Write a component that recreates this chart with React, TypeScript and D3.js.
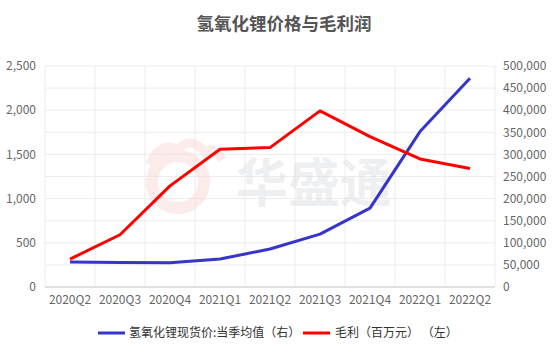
import React from 'react';
import * as d3 from 'd3';

// quarters on the x axis
const quarters = ['2020Q2', '2020Q3', '2020Q4', '2021Q1', '2021Q2', '2021Q3', '2021Q4', '2022Q1', '2022Q2'];
// 氢氧化锂现货价:当季均值 (right axis)
const spotPrice = [56500, 55600, 54900, 63300, 85900, 119700, 178500, 351600, 472200];
// 毛利 (百万元) (left axis)
const grossProfit = [316, 591, 1144, 1559, 1577, 1992, 1701, 1449, 1340];

const leftTicks = [0, 500, 1000, 1500, 2000, 2500];
const rightTicks = [0, 50000, 100000, 150000, 200000, 250000, 300000, 350000, 400000, 450000, 500000];
const gridTicks = d3.range(0, 2501, 250);

const FONT = '"Noto Sans CJK SC", "Noto Sans", sans-serif';

const W = 554;
const H = 353;
const M = { left: 45, right: 59, top: 66, bottom: 66 };

const App = () => {
  const x = d3.scaleBand().domain(quarters).range([M.left, W - M.right]);
  const yL = d3.scaleLinear().domain([0, 2500]).range([H - M.bottom, M.top]);
  const yR = d3.scaleLinear().domain([0, 500000]).range([H - M.bottom, M.top]);
  const cx = (q: string) => (x(q) ?? 0) + x.bandwidth() / 2;
  const fmt = d3.format(',');

  const blueLine = d3.line<number>().x((_, i) => cx(quarters[i])).y((d) => yR(d))(spotPrice);
  const redLine = d3.line<number>().x((_, i) => cx(quarters[i])).y((d) => yL(d))(grossProfit);

  const bottom = H - M.bottom;

  return (
    <svg width={W} height={H} style={{ position: 'absolute', left: 0, top: 0, background: '#fff' }}>
      {/* grid */}
      {gridTicks.map((t) => (
        <line key={'h' + t} x1={M.left} x2={W - M.right} y1={yL(t)} y2={yL(t)} stroke="#ececec" />
      ))}
      {quarters.map((q) => (
        <line key={'v' + q} x1={x(q)} x2={x(q)} y1={M.top} y2={bottom} stroke="#ececec" />
      ))}
      <line x1={W - M.right} x2={W - M.right} y1={M.top} y2={bottom} stroke="#ececec" />

      {/* watermark */}
      <g opacity={0.5}>
        <circle cx={178} cy={182} r={26} fill="none" stroke="#fbd9d9" strokeWidth={12} />
        <path d="M150 165 Q160 140 178 150 Q190 135 205 152 Q215 145 222 160" fill="none" stroke="#fbd9d9" strokeWidth={9} />
        <text x={236} y={202} fontFamily={FONT} fontSize={52} fontWeight={700} fill="#dfe1e5">华盛通</text>
      </g>

      <line x1={M.left} x2={W - M.right} y1={bottom} y2={bottom} stroke="#cccccc" />

      {/* left axis */}
      {leftTicks.map((t) => (
        <text key={'l' + t} x={36} y={yL(t)} dy="0.35em" textAnchor="end" fontFamily={FONT} fontSize={12} fill="#666">
          {fmt(t)}
        </text>
      ))}
      {/* right axis */}
      {rightTicks.map((t) => (
        <text key={'r' + t} x={503} y={yR(t)} dy="0.35em" fontFamily={FONT} fontSize={12} fill="#666">
          {fmt(t)}
        </text>
      ))}
      {/* x axis */}
      {quarters.map((q) => (
        <text key={'x' + q} x={cx(q)} y={bottom + 17} textAnchor="middle" fontFamily={FONT} fontSize={12} fill="#666">
          {q}
        </text>
      ))}

      <path d={blueLine ?? ''} fill="none" stroke="#3535cc" strokeWidth={3} strokeLinejoin="round" />
      <path d={redLine ?? ''} fill="none" stroke="#ff0000" strokeWidth={3} strokeLinejoin="round" />

      {/* title */}
      <text x={284} y={30} textAnchor="middle" fontFamily={FONT} fontSize={17.5} fontWeight={700} fill="#555">
        氢氧化锂价格与毛利润
      </text>

      {/* legend */}
      <line x1={98} x2={125} y1={333} y2={333} stroke="#3535cc" strokeWidth={3} />
      <text x={129} y={333} dy="0.35em" fontFamily={FONT} fontSize={12} fill="#333">氢氧化锂现货价:当季均值（右）</text>
      <line x1={303} x2={330} y1={333} y2={333} stroke="#ff0000" strokeWidth={3} />
      <text x={335} y={333} dy="0.35em" fontFamily={FONT} fontSize={12} fill="#333" style={{ whiteSpace: 'pre' }}>毛利（百万元） （左）</text>
    </svg>
  );
};

export default App;
